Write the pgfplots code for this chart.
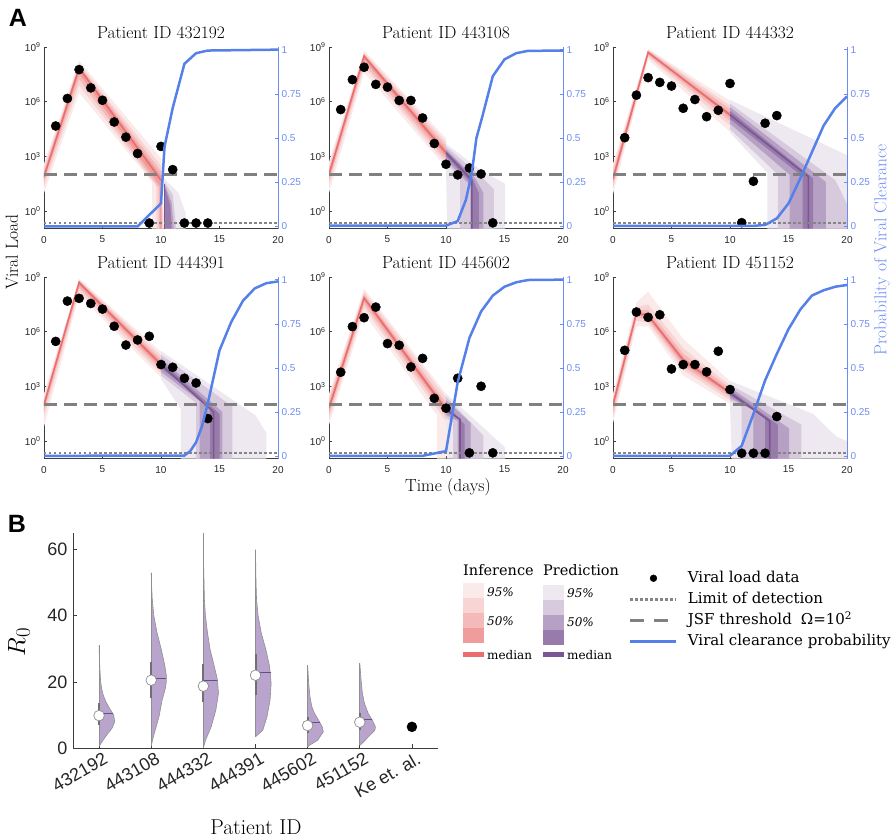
\documentclass[border=0pt]{standalone}
\usepackage{fontspec}
\usepackage{pgfplots}
\pgfplotsset{compat=1.18}
\newfontfamily\helv{Liberation Sans}
\newfontfamily\djs{DejaVu Serif}
\newcommand\setfs[1]{\fontsize{#1}{#1}\selectfont}
\definecolor{r95}{HTML}{FBEAEA}
\definecolor{r75}{HTML}{F8D4D4}
\definecolor{r50}{HTML}{F4B9B9}
\definecolor{r25}{HTML}{F09C9C}
\definecolor{rmed}{HTML}{EB6E6E}
\definecolor{p95}{HTML}{EEE8F1}
\definecolor{p75}{HTML}{D8CADD}
\definecolor{p50}{HTML}{B6A0C4}
\definecolor{p25}{HTML}{987BAA}
\definecolor{pmed}{HTML}{7A5693}
\definecolor{axgray}{HTML}{3C3C3C}
\definecolor{tickc}{HTML}{262626}
\definecolor{rax}{HTML}{6D8CF2}
\definecolor{clr}{HTML}{5580EA}
\definecolor{jsfc}{HTML}{808080}
\definecolor{lodc}{HTML}{858585}
\definecolor{vio}{HTML}{B9A4CD}
\definecolor{vedge}{HTML}{8F8F8F}
\definecolor{vmed}{HTML}{6B4A8C}
\definecolor{iqr}{HTML}{707070}
\pgfplotsset{
  vl/.style={anchor=north west, scale only axis, width=234pt, height=181.5pt,
    xmin=0, xmax=20, ymin=-0.95, ymax=9,
    axis x line*=bottom, axis y line*=left, axis line style={-, draw=axgray, line width=0.7pt},
    xtick={0,5,10,15,20}, xticklabels={0,5,10,15,20},
    ytick={0,3,6,9}, yticklabels={10\textsuperscript{0},10\textsuperscript{3},10\textsuperscript{6},10\textsuperscript{9}},
    tick align=inside, major tick length=3pt, tick style={draw=axgray, line width=0.6pt},
    ticklabel style={font=\helv\setfs{10}, text=tickc},
    xticklabel style={yshift=-4pt}},
  pr/.style={anchor=north west, scale only axis, width=234pt, height=181.5pt,
    xmin=0, xmax=20, ymin=-0.012, ymax=1.015,
    axis x line=none, axis y line*=right, axis line style={-, draw=rax, line width=0.7pt},
    ytick={0,0.25,0.5,0.75,1}, yticklabels={0,0.25,0.5,0.75,1},
    tick align=inside, major tick length=3pt, tick style={draw=rax, line width=0.6pt},
    ticklabel style={font=\helv\setfs{10}, text=rax}},
  b95/.style={fill=r95, draw=none}, b75/.style={fill=r75, draw=none},
  b50/.style={fill=r50, draw=none}, b25/.style={fill=r25, draw=none},
  q95/.style={fill=p95, draw=none}, q75/.style={fill=p75, draw=none},
  q50/.style={fill=p50, draw=none}, q25/.style={fill=p25, draw=none},
  rm/.style={rmed, line width=1.6pt}, pm/.style={pmed, line width=1.6pt},
  dat/.style={only marks, mark=*, mark size=4.6pt, black},
  jsf/.style={jsfc, line width=2.8pt, dash pattern=on 13pt off 7pt},
  lod/.style={lodc, line width=2.5pt, dash pattern=on 2.5pt off 2.5pt},
  blu/.style={clr, line width=2.5pt},
  mylegimg/.style={legend image code/.code={\draw[mark repeat=2,mark phase=2,##1] plot coordinates {(0pt,0pt)(23pt,0pt)(46pt,0pt)};}},
}
\begin{document}
\begin{tikzpicture}
\path[use as bounding box] (0pt,0pt) rectangle (894pt,-839pt);

% ---------------- Patient 432192
\begin{axis}[vl, at={(44pt,-47pt)}]
\addplot[b95] coordinates {(0,2.6)(3,8.25)(10,2.9)(10.3,-0.95)(9.25,-0.95)(9.25,1.6)(3,6.5)(0,1.0)};
\addplot[b75] coordinates {(0,2.4)(3,8.1)(10,2.5)(10.2,-0.95)(9.6,-0.95)(9.6,1.4)(3,6.9)(0,1.35)};
\addplot[b50] coordinates {(0,2.2)(3,8.0)(10,2.2)(10.1,-0.95)(9.8,-0.95)(9.8,1.3)(3,7.25)(0,1.6)};
\addplot[b25] coordinates {(0,2.05)(3,7.93)(10,1.95)(10.05,-0.95)(9.9,-0.95)(9.9,1.4)(3,7.55)(0,1.78)};
\addplot[q95] coordinates {(10.25,1.8)(11.5,1.0)(12.1,-0.1)(12.1,-0.95)(10.25,-0.95)};
\addplot[q75] coordinates {(10.3,1.6)(11.0,0.9)(11.3,-0.95)(10.3,-0.95)};
\addplot[q50] coordinates {(10.3,1.5)(10.9,0.5)(11.1,-0.95)(10.3,-0.95)};
\addplot[q25] coordinates {(10.3,1.4)(10.8,0.3)(10.9,-0.95)(10.3,-0.95)};
\addplot[rm] coordinates {(0,1.9)(3,7.85)(10,1.7)};
\addplot[pm] coordinates {(10.3,1.5)(10.3,-0.95)};
\addplot[jsf] coordinates {(0,2)(20,2)};
\addplot[lod] coordinates {(0,-0.65)(20,-0.65)};
\addplot[dat] coordinates {(1,4.67)(2,6.18)(3,7.76)(4,6.76)(5,6.08)(6,4.89)(7,4.06)(8,3.16)(9,-0.65)(10,3.55)(11,2.28)(12,-0.65)(13,-0.65)(14,-0.65)};
\end{axis}
\begin{axis}[pr, at={(44pt,-47pt)}]
\addplot[blu] coordinates {(0,0)(8,0)(10,0.13)(10.3,0.45)(11,0.67)(12,0.92)(13,0.98)(14,0.995)(20,1.0)};
\end{axis}

% ---------------- Patient 443108
\begin{axis}[vl, at={(329pt,-47pt)}]
\addplot[b95] coordinates {(0,2.7)(3,8.8)(10,4.0)(10,2.4)(3,7.6)(0,1.0)};
\addplot[b75] coordinates {(0,2.5)(3,8.7)(10,3.8)(10,2.6)(3,7.9)(0,1.4)};
\addplot[b50] coordinates {(0,2.3)(3,8.6)(10,3.6)(10,2.8)(3,8.1)(0,1.65)};
\addplot[b25] coordinates {(0,2.15)(3,8.55)(10,3.4)(10,3.0)(3,8.3)(0,1.85)};
\addplot[q95] coordinates {(10,3.7)(13.1,2.2)(15.05,1.5)(15.05,-0.95)(10.1,-0.95)(10,2.4)};
\addplot[q75] coordinates {(10,3.55)(13,1.9)(14.1,1.2)(14.1,-0.95)(11.2,-0.95)(11.2,1.9)(10,2.6)};
\addplot[q50] coordinates {(10,3.4)(12.5,1.8)(13.2,1.0)(13.2,-0.95)(12.1,-0.95)(12.1,1.4)(10,2.8)};
\addplot[q25] coordinates {(10,3.3)(12.2,1.9)(12.8,1.0)(12.8,-0.95)(12.2,-0.95)(12.2,1.5)(10,3.0)};
\addplot[rm] coordinates {(0,2.02)(3,8.5)(10,3.2)};
\addplot[pm] coordinates {(10,3.2)(12.2,1.7)(12.2,-0.95)};
\addplot[jsf] coordinates {(0,2)(20,2)};
\addplot[lod] coordinates {(0,-0.65)(20,-0.65)};
\addplot[dat] coordinates {(1,5.57)(2,7.21)(3,7.89)(4,6.95)(5,6.80)(6,6.07)(7,6.07)(8,5.11)(9,3.71)(10,2.57)(11,1.99)(12,2.37)(13,2.04)(14,-0.64)};
\end{axis}
\begin{axis}[pr, at={(329pt,-47pt)}]
\addplot[blu] coordinates {(0,0.004)(10,0.004)(11,0.03)(11.7,0.15)(12.2,0.3)(12.6,0.5)(13.1,0.62)(14,0.85)(15,0.945)(16,0.98)(17,0.993)(20,0.995)};
\end{axis}

% ---------------- Patient 444332
\begin{axis}[vl, at={(613pt,-47pt)}]
\addplot[b95] coordinates {(0,2.6)(3,8.9)(10,6.05)(10,4.35)(3,8.3)(0,0.95)};
\addplot[b75] coordinates {(0,2.35)(3,8.85)(10,5.8)(10,4.7)(3,8.45)(0,1.25)};
\addplot[b50] coordinates {(0,2.15)(3,8.8)(10,5.6)(10,4.95)(3,8.55)(0,1.45)};
\addplot[b25] coordinates {(0,1.95)(3,8.75)(10,5.4)(10,5.15)(3,8.65)(0,1.62)};
\addplot[q95] coordinates {(10,6.1)(20,3.07)(20,-0.95)(13.2,-0.95)(13.2,2.1)(10,4.3)};
\addplot[q75] coordinates {(10,5.9)(19,1.7)(20,0.4)(20,-0.95)(14.1,-0.95)(14.1,2.0)(10,4.5)};
\addplot[q50] coordinates {(10,5.7)(18.2,1.6)(18.2,-0.95)(15.1,-0.95)(15.1,2.0)(10,4.8)};
\addplot[q25] coordinates {(10,5.5)(17.1,1.8)(17.1,-0.95)(16.2,-0.95)(16.2,1.9)(10,5.05)};
\addplot[rm] coordinates {(0,1.78)(3,8.7)(10,5.28)};
\addplot[pm] coordinates {(10,5.28)(16.7,1.9)(16.7,-0.95)};
\addplot[jsf] coordinates {(0,2)(20,2)};
\addplot[lod] coordinates {(0,-0.65)(20,-0.65)};
\addplot[dat] coordinates {(1,4.03)(2,6.36)(3,7.32)(4,7.06)(5,6.86)(6,5.64)(7,6.12)(8,5.18)(9,5.53)(10,7.00)(11,-0.63)(12,1.64)(13,4.82)(14,5.24)};
\end{axis}
\begin{axis}[pr, at={(613pt,-47pt)}]
\addplot[blu] coordinates {(0,0.003)(12,0.003)(13,0.008)(14,0.045)(15,0.13)(16,0.27)(17,0.42)(18,0.57)(19,0.67)(20,0.735)};
\end{axis}

% ---------------- Patient 444391
\begin{axis}[vl, at={(44pt,-277pt)}]
\addplot[b95] coordinates {(0,2.6)(3,8.9)(10,4.9)(10,3.5)(3,8.0)(0,0.8)};
\addplot[b75] coordinates {(0,2.4)(3,8.85)(10,4.7)(10,3.7)(3,8.2)(0,1.3)};
\addplot[b50] coordinates {(0,2.2)(3,8.8)(10,4.5)(10,3.9)(3,8.4)(0,1.6)};
\addplot[b25] coordinates {(0,2.1)(3,8.75)(10,4.35)(10,4.05)(3,8.55)(0,1.85)};
\addplot[q95] coordinates {(10,4.95)(18.1,1.4)(19.0,0.45)(19.0,-0.95)(11.7,-0.95)(11.7,1.75)(10,3.4)};
\addplot[q75] coordinates {(10,4.75)(16.1,1.9)(16.1,-0.95)(13.0,-0.95)(13.0,2.1)(10,3.6)};
\addplot[q50] coordinates {(10,4.55)(15.25,1.6)(15.25,-0.95)(13.3,-0.95)(13.3,2.2)(10,3.8)};
\addplot[q25] coordinates {(10,4.4)(15.0,1.5)(15.0,-0.95)(14.2,-0.95)(14.2,1.9)(10,4.0)};
\addplot[rm] coordinates {(0,2.0)(3,8.7)(10,4.2)};
\addplot[pm] coordinates {(10,4.2)(14.5,1.6)(14.5,-0.95)};
\addplot[jsf] coordinates {(0,2)(20,2)};
\addplot[lod] coordinates {(0,-0.65)(20,-0.65)};
\addplot[dat] coordinates {(1,5.47)(2,7.68)(3,7.83)(4,7.55)(5,7.24)(6,6.30)(7,5.27)(8,5.55)(9,5.75)(10,4.20)(11,4.05)(12,3.45)(13,3.19)(14,1.24)};
\end{axis}
\begin{axis}[pr, at={(44pt,-277pt)}]
\addplot[blu] coordinates {(0,0.003)(12,0.005)(12.5,0.03)(13,0.08)(13.5,0.17)(14,0.3)(15,0.6)(16,0.76)(17,0.88)(18,0.95)(19,0.98)(20,0.99)};
\end{axis}

% ---------------- Patient 445602
\begin{axis}[vl, at={(329pt,-277pt)}]
\addplot[b95] coordinates {(0,2.6)(3,8.35)(10,2.6)(10,-0.95)(9.25,-0.95)(9.25,1.4)(3,7.0)(0,0.9)};
\addplot[b75] coordinates {(0,2.4)(3,8.2)(10,2.4)(10,1.1)(3,7.3)(0,1.2)};
\addplot[b50] coordinates {(0,2.2)(3,8.05)(10,2.1)(10,1.35)(3,7.5)(0,1.45)};
\addplot[b25] coordinates {(0,2.0)(3,7.95)(10,1.9)(10,1.55)(3,7.7)(0,1.65)};
\addplot[q95] coordinates {(10,2.6)(13.1,0.8)(15.05,-0.35)(15.05,-0.95)(10.1,-0.95)(10,1.1)};
\addplot[q75] coordinates {(10,2.45)(13.2,0.3)(13.2,-0.95)(10.6,-0.95)(10.6,1.0)(10,1.3)};
\addplot[q50] coordinates {(10,2.25)(12.1,1.0)(12.1,-0.95)(11.0,-0.95)(11.0,1.1)(10,1.45)};
\addplot[q25] coordinates {(10,2.05)(11.6,0.9)(11.6,-0.95)(11.1,-0.95)(11.1,1.2)(10,1.6)};
\addplot[rm] coordinates {(0,1.82)(3,7.85)(10,1.73)};
\addplot[pm] coordinates {(10,1.73)(11.2,1.2)(11.2,-0.95)};
\addplot[jsf] coordinates {(0,2)(20,2)};
\addplot[lod] coordinates {(0,-0.65)(20,-0.65)};
\addplot[dat] coordinates {(1,3.78)(2,6.28)(3,6.77)(4,7.35)(5,5.35)(6,5.26)(7,4.07)(8,4.54)(9,2.35)(10,1.81)(11,3.45)(12,-0.64)(13,3.01)(14,-0.64)};
\end{axis}
\begin{axis}[pr, at={(329pt,-277pt)}]
\addplot[blu] coordinates {(0,0.003)(8,0.003)(10,0.03)(11,0.42)(12,0.67)(13,0.82)(14,0.91)(15,0.96)(16,0.985)(17,0.998)(20,1.0)};
\end{axis}

% ---------------- Patient 451152
\begin{axis}[vl, at={(613pt,-277pt)}]
\addplot[b95] coordinates {(0,2.6)(2,7.6)(3,8.2)(6,5.6)(10,3.3)(10,2.05)(6,3.6)(3,6.3)(2,6.3)(0,1.0)};
\addplot[b75] coordinates {(0,2.4)(2,7.35)(3,7.5)(6,5.1)(10,3.05)(10,2.25)(6,3.9)(3,6.5)(2,6.6)(0,1.3)};
\addplot[b50] coordinates {(0,2.25)(2,7.2)(3,7.2)(6,4.8)(10,2.9)(10,2.4)(6,4.1)(3,6.65)(2,6.8)(0,1.55)};
\addplot[b25] coordinates {(0,2.1)(2,7.1)(3,7.0)(6,4.6)(10,2.75)(10,2.55)(6,4.25)(3,6.8)(2,6.9)(0,1.8)};
\addplot[q95] coordinates {(10,3.3)(17.1,1.5)(19.1,0.25)(20,0.0)(20,-0.95)(10.15,-0.95)(10,2.0)};
\addplot[q75] coordinates {(10,3.1)(16.1,0.9)(16.1,-0.95)(11.0,-0.95)(11.0,1.9)(10,2.2)};
\addplot[q50] coordinates {(10,2.95)(15.05,0.7)(15.05,-0.95)(12.0,-0.95)(12.0,1.7)(10,2.35)};
\addplot[q25] coordinates {(10,2.8)(14.1,0.9)(14.1,-0.95)(13.0,-0.95)(13.0,1.3)(10,2.5)};
\addplot[rm] coordinates {(0,2.0)(2,7.0)(3,6.9)(6,4.45)(10,2.65)};
\addplot[pm] coordinates {(10,2.65)(13.4,1.1)(13.4,-0.95)};
\addplot[jsf] coordinates {(0,2)(20,2)};
\addplot[lod] coordinates {(0,-0.65)(20,-0.65)};
\addplot[dat] coordinates {(1,4.98)(2,7.08)(3,6.79)(4,6.93)(5,3.96)(6,4.20)(7,4.20)(8,3.80)(9,4.93)(10,2.83)(11,-0.66)(12,-0.66)(13,-0.66)(14,1.35)};
\end{axis}
\begin{axis}[pr, at={(613pt,-277pt)}]
\addplot[blu] coordinates {(0,0.003)(10,0.003)(11,0.06)(12,0.24)(13,0.43)(14,0.58)(15,0.72)(16,0.83)(17,0.91)(18,0.94)(19,0.96)(20,0.97)};
\end{axis}

% ---------------- Panel B
\begin{axis}[anchor=north west, at={(73pt,-533pt)}, scale only axis, width=365pt, height=215pt,
  xmin=-0.5, xmax=6.5, ymin=0, ymax=65,
  axis x line*=bottom, axis y line*=left, axis line style={-, draw=axgray, line width=0.8pt},
  xtick={0,1,2,3,4,5,6}, xticklabels={432192,443108,444332,444391,445602,451152,Ke et. al.},
  ytick={0,20,40,60}, yticklabels={0,20,40,60},
  tick align=inside, major tick length=4pt, tick style={draw=axgray, line width=0.6pt},
  yticklabel style={font=\helv\setfs{18}, text=tickc, xshift=-2pt},
  xticklabel style={font=\helv\setfs{18}, text=tickc, rotate=30, anchor=north east, xshift=5pt, yshift=-1pt},
  mylegimg,
  legend style={at={(1.523,0.83)}, anchor=north west, draw=none, fill=none, inner sep=0pt,
    font=\djs\setfs{15}, row sep=4pt, nodes={inner sep=1pt, text height=11.5pt, text depth=3.5pt},
    /tikz/every odd column/.append style={column sep=9pt}}, legend cell align=left]
\addlegendimage{only marks, mark=*, mark size=3.4pt, black}
\addlegendentry{Viral load data}
\addlegendimage{lodc, line width=2.5pt, dash pattern=on 2.5pt off 2.5pt}
\addlegendentry{Limit of detection}
\addlegendimage{jsfc, line width=2.8pt, dash pattern=on 14pt off 10pt}
\addlegendentry{JSF threshold\hspace{0.6em}Ω=10\textsuperscript{2}}
\addlegendimage{clr, line width=2.5pt}
\addlegendentry{Viral clearance probability}
% violins
\addplot[fill=vio, draw=vedge, line width=0.6pt] coordinates {(0,0.5)(0.06,2)(0.15,4)(0.25,6)(0.3,8)(0.28,10)(0.2,12)(0.13,14)(0.08,16)(0.05,18)(0.03,20)(0.015,24)(0.005,28)(0,31)};
\addplot[fill=vio, draw=vedge, line width=0.6pt] coordinates {(1,0.5)(1.02,2)(1.06,4.5)(1.15,9.5)(1.21,14.5)(1.27,18)(1.29,20)(1.29,22)(1.26,25)(1.19,30)(1.11,35)(1.05,40)(1.02,45)(1.008,49)(1,53)};
\addplot[fill=vio, draw=vedge, line width=0.6pt] coordinates {(2,0)(2.04,2.3)(2.15,6.4)(2.24,11.5)(2.29,16.5)(2.27,20.6)(2.21,24.7)(2.13,29.7)(2.08,34.8)(2.04,40)(2.02,45)(2.006,55)(2,65)};
\addplot[fill=vio, draw=vedge, line width=0.6pt] coordinates {(3,3.4)(3.14,5.4)(3.22,9.4)(3.28,14.5)(3.3,19.6)(3.27,24.7)(3.2,29.7)(3.11,34.8)(3.05,40)(3.02,45)(3.01,50)(3,60)};
\addplot[fill=vio, draw=vedge, line width=0.6pt] coordinates {(4,0.3)(4.03,0.8)(4.19,2.3)(4.3,4.9)(4.28,6.4)(4.21,8.4)(4.13,10.5)(4.08,12.5)(4.045,15.5)(4.02,19.6)(4,25)};
\addplot[fill=vio, draw=vedge, line width=0.6pt] coordinates {(5,0.8)(5.03,1.2)(5.13,2.8)(5.29,5.4)(5.3,6.4)(5.24,8.4)(5.16,10.5)(5.09,13.5)(5.05,16.5)(5.025,20.6)(5,25.7)};
% centre lines
\addplot[vedge, line width=0.8pt] coordinates {(0,0.5)(0,31)};
\addplot[vedge, line width=0.8pt] coordinates {(1,0.5)(1,53)};
\addplot[vedge, line width=0.8pt] coordinates {(2,0)(2,65)};
\addplot[vedge, line width=0.8pt] coordinates {(3,3.4)(3,60)};
\addplot[vedge, line width=0.8pt] coordinates {(4,0.3)(4,25)};
\addplot[vedge, line width=0.8pt] coordinates {(5,0.8)(5,25.7)};
% interquartile
\addplot[iqr, line width=2pt] coordinates {(0,7)(0,13.5)};
\addplot[iqr, line width=2pt] coordinates {(1,15)(1,26)};
\addplot[iqr, line width=2pt] coordinates {(2,14)(2,25.5)};
\addplot[iqr, line width=2pt] coordinates {(3,16)(3,28.5)};
\addplot[iqr, line width=2pt] coordinates {(4,4.5)(4,9.5)};
\addplot[iqr, line width=2pt] coordinates {(5,5.5)(5,10.5)};
% medians
\addplot[vmed, line width=1.3pt] coordinates {(0,10.5)(0.27,10.5)};
\addplot[vmed, line width=1.3pt] coordinates {(1,21)(1.29,21)};
\addplot[vmed, line width=1.3pt] coordinates {(2,20.5)(2.27,20.5)};
\addplot[vmed, line width=1.3pt] coordinates {(3,22.8)(3.29,22.8)};
\addplot[vmed, line width=1.3pt] coordinates {(4,7.8)(4.23,7.8)};
\addplot[vmed, line width=1.3pt] coordinates {(5,8.6)(5.23,8.6)};
% means
\addplot[only marks, mark=*, mark size=5.3pt, mark options={fill=white, draw=vedge, line width=0.7pt}] coordinates {(0,9.8)(1,20.5)(2,18.7)(3,22)(4,6.8)(5,7.8)};
\addplot[only marks, mark=*, mark size=5pt, black] coordinates {(6,6.4)};
\end{axis}

% ---------------- Text
\node[font=\helv\bfseries\setfs{25}] at (18pt,-18pt) {A};
\node[font=\helv\bfseries\setfs{25}] at (17pt,-524pt) {B};
\node[font=\setfs{17.5}] at (161pt,-33pt) {Patient ID 432192};
\node[font=\setfs{17.5}] at (446pt,-33pt) {Patient ID 443108};
\node[font=\setfs{17.5}] at (730pt,-33pt) {Patient ID 444332};
\node[font=\setfs{17.5}] at (161pt,-263pt) {Patient ID 444391};
\node[font=\setfs{17.5}] at (446pt,-263pt) {Patient ID 445602};
\node[font=\setfs{17.5}] at (730pt,-263pt) {Patient ID 451152};
\node[rotate=90, font=\setfs{17.5}] at (12pt,-252pt) {Viral Load};
\node[font=\setfs{17.5}] at (448pt,-487pt) {Time (days)};
\node[rotate=90, font=\setfs{17.5}, text=rax] at (882pt,-250pt) {Probability of Viral Clearance};
\node[font=\setfs{21.5}] at (256pt,-827pt) {Patient ID};
\node[rotate=90, font=\setfs{30}] at (19pt,-642pt) {$R_0$};

% ---------------- Band legend
\fill[r95] (463pt,-583pt) rectangle (484pt,-598pt);
\fill[r75] (463pt,-598pt) rectangle (484pt,-613pt);
\fill[r50] (463pt,-613pt) rectangle (484pt,-628pt);
\fill[r25] (463pt,-628pt) rectangle (484pt,-643pt);
\fill[rmed] (463pt,-652pt) rectangle (484pt,-657pt);
\fill[p95] (543pt,-585pt) rectangle (564pt,-600pt);
\fill[p75] (543pt,-600pt) rectangle (564pt,-615pt);
\fill[p50] (543pt,-615pt) rectangle (564pt,-630pt);
\fill[p25] (543pt,-630pt) rectangle (564pt,-645pt);
\fill[pmed] (543pt,-652pt) rectangle (564pt,-657pt);
\node[anchor=west, inner sep=0pt, font=\djs\setfs{14.5}] at (463pt,-570pt) {Inference};
\node[anchor=west, inner sep=0pt, font=\djs\setfs{14.5}] at (543pt,-570pt) {Prediction};
\node[anchor=west, inner sep=0pt, font=\djs\itshape\setfs{12}] at (487pt,-592pt) {95\%};
\node[anchor=west, inner sep=0pt, font=\djs\itshape\setfs{12}] at (487pt,-621pt) {50\%};
\node[anchor=west, inner sep=0pt, font=\djs\itshape\setfs{12}] at (567pt,-593pt) {95\%};
\node[anchor=west, inner sep=0pt, font=\djs\itshape\setfs{12}] at (567pt,-622pt) {50\%};
\node[anchor=west, inner sep=0pt, font=\djs\setfs{12}] at (487pt,-655pt) {median};
\node[anchor=west, inner sep=0pt, font=\djs\setfs{12}] at (567pt,-655pt) {median};
\end{tikzpicture}
\end{document}
